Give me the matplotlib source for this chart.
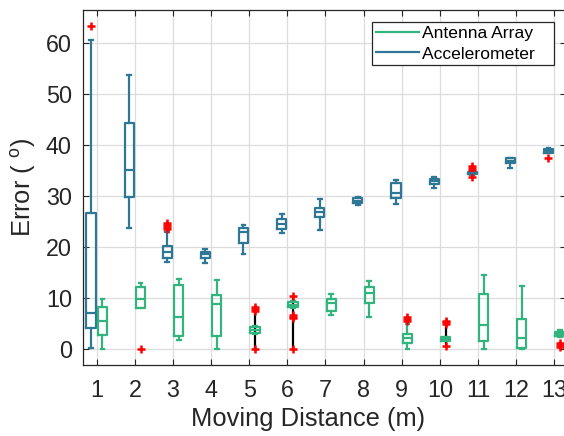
import matplotlib.pyplot as plt
import numpy as np

plt.rcParams["font.family"] = ["Liberation Sans", "DejaVu Sans"]
plt.rcParams["mathtext.default"] = "regular"

distances = list(range(1, 14))

# Accelerometer box stats
acc_q1 = [4.2, 29.9, 18.0, 18.0, 20.8, 23.6, 26.0, 28.6, 29.7, 32.5, 34.3, 36.5, 38.4]
acc_med = [7.1, 35.2, 19.1, 18.6, 23.0, 24.6, 27.0, 29.1, 30.7, 33.0, 34.5, 37.0, 38.8]
acc_q3 = [26.8, 44.3, 20.3, 19.0, 23.8, 25.5, 27.8, 29.6, 32.7, 33.4, 34.8, 37.5, 39.2]
acc_lo = [0.3, 23.7, 17.1, 17.0, 18.7, 22.9, 23.4, 28.2, 28.5, 31.7, 34.2, 35.6, 38.4]
acc_hi = [60.6, 53.8, 23.0, 19.7, 24.3, 26.5, 29.4, 29.9, 33.1, 33.7, 34.9, 37.6, 39.4]
acc_out = [[63.4], [], [23.6, 24.0, 24.4, 24.8], [], [], [], [], [], [], [],
           [33.7, 35.2, 35.6, 36.0], [], [37.5]]

# Antenna array box stats
ant_q1 = [2.9, 8.2, 2.7, 2.6, 3.25, 8.35, 7.6, 9.0, 1.3, 1.7, 1.7, 0.2, 2.7]
ant_med = [5.6, 9.8, 6.4, 8.9, 3.9, 8.8, 9.0, 11.0, 2.2, 2.0, 4.8, 2.2, 3.1]
ant_q3 = [8.35, 12.3, 12.7, 10.6, 4.4, 9.3, 9.9, 12.3, 3.0, 2.35, 10.8, 5.9, 3.45]
ant_lo = [0.0, 8.2, 1.8, 0.0, 3.0, 8.2, 6.7, 6.3, 0.0, 1.6, 0.0, 0.0, 2.5]
ant_hi = [9.8, 13.1, 13.8, 13.6, 4.6, 9.4, 10.8, 13.4, 5.0, 2.5, 14.6, 12.5, 3.9]
ant_out = [[], [0.0], [], [], [0.0, 7.6, 8.0, 8.3], [0.0, 6.1, 6.4, 6.8, 10.5],
           [], [], [5.6, 6.0, 6.4], [0.65, 5.0, 5.3, 5.6], [], [], [0.4, 0.8, 1.2]]

GREEN = "#33b47f"
BLUE = "#2e7895"
TEXT = "#262626"


def make_stats(q1, med, q3, lo, hi, out):
    return [
        {"q1": a, "med": m, "q3": b, "whislo": l, "whishi": h, "fliers": f}
        for a, m, b, l, h, f in zip(q1, med, q3, lo, hi, out)
    ]


def draw_boxes(ax, stats, positions, color):
    line = dict(color=color, linewidth=1.6)
    ax.bxp(
        stats,
        positions=positions,
        widths=0.24,
        capwidths=0.1,
        showfliers=True,
        manage_ticks=False,
        boxprops=line,
        whiskerprops=line,
        capprops=line,
        medianprops=line,
        flierprops=dict(marker="+", markeredgecolor="red", markersize=6,
                        markeredgewidth=1.8, linestyle="none"),
    )


fig = plt.figure(figsize=(5.64, 4.36), dpi=100)
ax = fig.add_axes([83 / 564, 71 / 436, 483 / 564, 355 / 436])

x = np.array(distances)

# black connector lines through the odd groups
for i in (4, 5, 9):
    pts = ant_out[i] + [ant_lo[i], ant_hi[i]]
    ax.vlines(x[i] + 0.15, min(pts), max(pts), color="black", linewidth=1.6, zorder=1)

draw_boxes(ax, make_stats(acc_q1, acc_med, acc_q3, acc_lo, acc_hi, acc_out), x - 0.15, BLUE)
draw_boxes(ax, make_stats(ant_q1, ant_med, ant_q3, ant_lo, ant_hi, ant_out), x + 0.15, GREEN)

ax.set_xlim(0.64, 13.31)
ax.set_ylim(-3.05, 66.5)
ax.set_xticks(x)
ax.set_yticks(np.arange(0, 61, 10))
ax.grid(True, color="#dcdcdc", linewidth=0.9)
ax.set_axisbelow(True)
ax.tick_params(direction="in", top=True, right=True, length=4, labelsize=16.8,
               colors=TEXT)
ax.tick_params(axis="x", pad=10)
ax.tick_params(axis="y", pad=8)
for s in ax.spines.values():
    s.set_color(TEXT)
    s.set_linewidth(0.9)

ax.set_xlabel("Moving Distance (m)", fontsize=18.4, color=TEXT)
ax.xaxis.set_label_coords(0.466, -0.118)
ax.set_ylabel("Error ( $^{o}$)", fontsize=18.4, color=TEXT)
ax.yaxis.set_label_coords(-0.093, 0.5)

handles = [
    plt.Line2D([], [], color=GREEN, linewidth=1.6),
    plt.Line2D([], [], color=BLUE, linewidth=1.6),
]
leg = ax.legend(handles, ["Antenna Array   ", "Accelerometer   "], loc="upper right",
                fontsize=12.6, fancybox=False, framealpha=1, edgecolor=TEXT,
                handlelength=2.45, handletextpad=0.2, borderaxespad=0.7,
                borderpad=0.22, labelspacing=0.28)
leg.get_frame().set_linewidth(0.9)

fig.savefig("out.png", dpi=100)
